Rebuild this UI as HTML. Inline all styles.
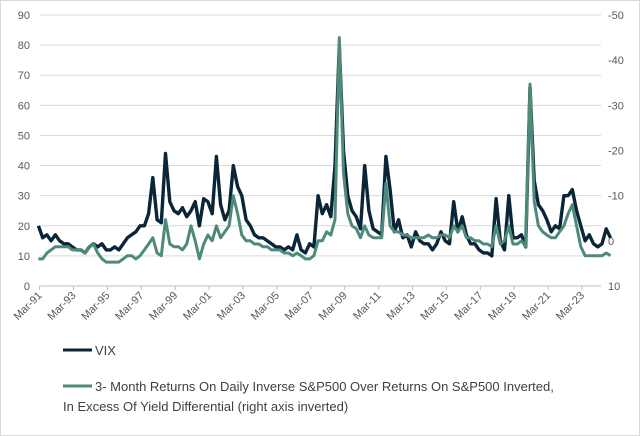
<!DOCTYPE html>
<html><head><meta charset="utf-8"><style>
body{margin:0;background:#fff;}
svg{display:block;font-family:"Liberation Sans",sans-serif;}
</style></head><body>
<svg id="chart" width="640" height="436" viewBox="0 0 640 436">
<rect x="0.5" y="0.5" width="639" height="435" fill="#fff" stroke="#d9d9d9"/>
<g id="grid"></g>
<g id="yleft"></g>
<g id="yright"></g>
<g id="xaxis"></g>
<g id="series"></g>
<g>
<line x1="63" y1="350" x2="92" y2="350" stroke="#0b2538" stroke-width="3"/>
<text x="95" y="355" font-size="13" fill="#404040">VIX</text>
<line x1="63" y1="386" x2="92" y2="386" stroke="#4e8a7a" stroke-width="3"/>
<text x="95" y="391" font-size="13" fill="#404040">3- Month Returns On Daily Inverse S&amp;P500 Over Returns On S&amp;P500 Inverted,</text>
<text x="63" y="411" font-size="13" fill="#404040">In Excess Of Yield Differential (right axis inverted)</text>
</g>
</svg>
<script>
const leftTicks=[0,10,20,30,40,50,60,70,80,90];
const rightTicks=[10,0,-10,-20,-30,-40,-50];
const xTickLabels=["Mar-91","Mar-93","Mar-95","Mar-97","Mar-99","Mar-01","Mar-03","Mar-05","Mar-07","Mar-09","Mar-11","Mar-13","Mar-15","Mar-17","Mar-19","Mar-21","Mar-23"];
const startYear=1991.1;
const vix=[20,16,17,15, 17,15,14,14, 13,12,12,11, 13,14,13,14, 12,12,13,12, 14,16,17,18, 20,20,24,36, 22,21,44,28, 25,24,26,23, 25,28,20,29, 28,24,43,27, 22,25,40,33, 30,22,20,17, 16,16,15,14, 13,13,12,13, 12,17,12,11, 14,13,30,24, 27,23,40,80, 45,30,25,23, 19,40,25,19, 18,17,43,32, 18,22,16,17, 13,18,15,14, 14,12,14,18, 15,14,28,18, 23,17,14,14, 12,11,11,10, 29,15,12,30, 16,16,17,13, 66,35,27,25, 22,18,20,19, 30,30,32,25, 20,15,17,14, 13,14,19,16];
const inverse=[4,4,2.7,2, 1.3,1.3,1.3,1.3, 2,2,2,2.7, 1.3,0.7,2.7,4, 4.7,4.7,4.7,4.7, 4,3.3,3.3,4, 3.3,2,0.7,-0.7, 2.7,3.3,-4.7,0.7, 1.3,1.3,2,0.7, -3.3,0,4,0.7, -1.3,0,-3.3,-0.7, -2,-3.3,-10,-6, -1.3,0,0,0.7, 0.7,1.3,1.3,2, 2,2,2.7,2.7, 3.3,2.7,3.3,4, 4,3.3,0,0, -2,-1.3,-4.7,-45, -15,-6,-3.3,-2.7, -0.7,-3.3,-1.3,-0.7, -0.7,-0.7,-12.7,-3.3, -2,-2,-1.3,-1.3, -0.7,-0.7,-0.7,-0.7, -1.3,-0.7,-0.7,-1.3, -1.3,-0.7,-3.3,-2, -3.3,-0.7,-0.7,0, 0,0.7,0.7,1.3, -3.3,0.7,0,-3.3, 0.7,0.7,0,1.3, -34.7,-8.7,-3.3,-2, -1.3,-0.7,-0.7,-2, -3.3,-6,-8,-3.3, 1.3,3.3,3.3,3.3, 3.3,3.3,2.7,3.3];

const NS="http://www.w3.org/2000/svg";
const x0=39.6,x1=601,yTop=15,yBot=286;
function xs(t){return x0+(t-1991.17)*16.95;}
function yl(v){return yBot-(v/90)*(yBot-yTop);}
function yr(r){return yTop+((r+50)/60)*(yBot-yTop);}
function mk(tag,attrs,parent){const e=document.createElementNS(NS,tag);for(const k in attrs)e.setAttribute(k,attrs[k]);parent.appendChild(e);return e;}
const grid=document.getElementById('grid'),yL=document.getElementById('yleft'),yR=document.getElementById('yright'),xa=document.getElementById('xaxis'),ser=document.getElementById('series');
leftTicks.forEach(v=>{
  if(v>0){const g=mk('line',{x1:x0,x2:x1,y1:yl(v),y2:yl(v),stroke:'#d9d9d9','stroke-width':1},grid);
  
  }
  const t=mk('text',{x:30,y:yl(v)+4,'text-anchor':'end','font-size':11,fill:'#595959'},yL);
  t.textContent=v;
  
  
});
rightTicks.forEach(r=>{
  const t=mk('text',{x:608,y:yr(r)+4,'text-anchor':'start','font-size':11,fill:'#595959'},yR);
  t.textContent=r;
  
  
});
const ax=mk('line',{x1:x0,x2:x1,y1:yBot,y2:yBot,stroke:'#bfbfbf','stroke-width':1},xa);


xTickLabels.forEach((lab,i)=>{
  const x=xs(1991.17+2*i);
  const tk=mk('line',{x1:x,x2:x,y1:yBot,y2:yBot+4,stroke:'#bfbfbf'},xa);
  
  
  const t=mk('text',{x:x+3,y:yBot+10,'text-anchor':'end','font-size':11,fill:'#595959',transform:`rotate(-45 ${x+3} ${yBot+10})`},xa);
  t.textContent=lab;
  
  
});
function path(arr,yf,color,name,w){
  const d=arr.map((v,i)=>(i?'L':'M')+xs(startYear+0.25*i).toFixed(1)+','+yf(v).toFixed(1)).join('');
  const p=mk('path',{d:d,fill:'none',stroke:color,'stroke-width':w,'stroke-linejoin':'round'},ser);
  
  
}
path(vix,yl,'#0b2538','vix-line',3.4);
path(inverse,yr,'#4e8a7a','inverse-sp500-line',3);
</script>
</body></html>
